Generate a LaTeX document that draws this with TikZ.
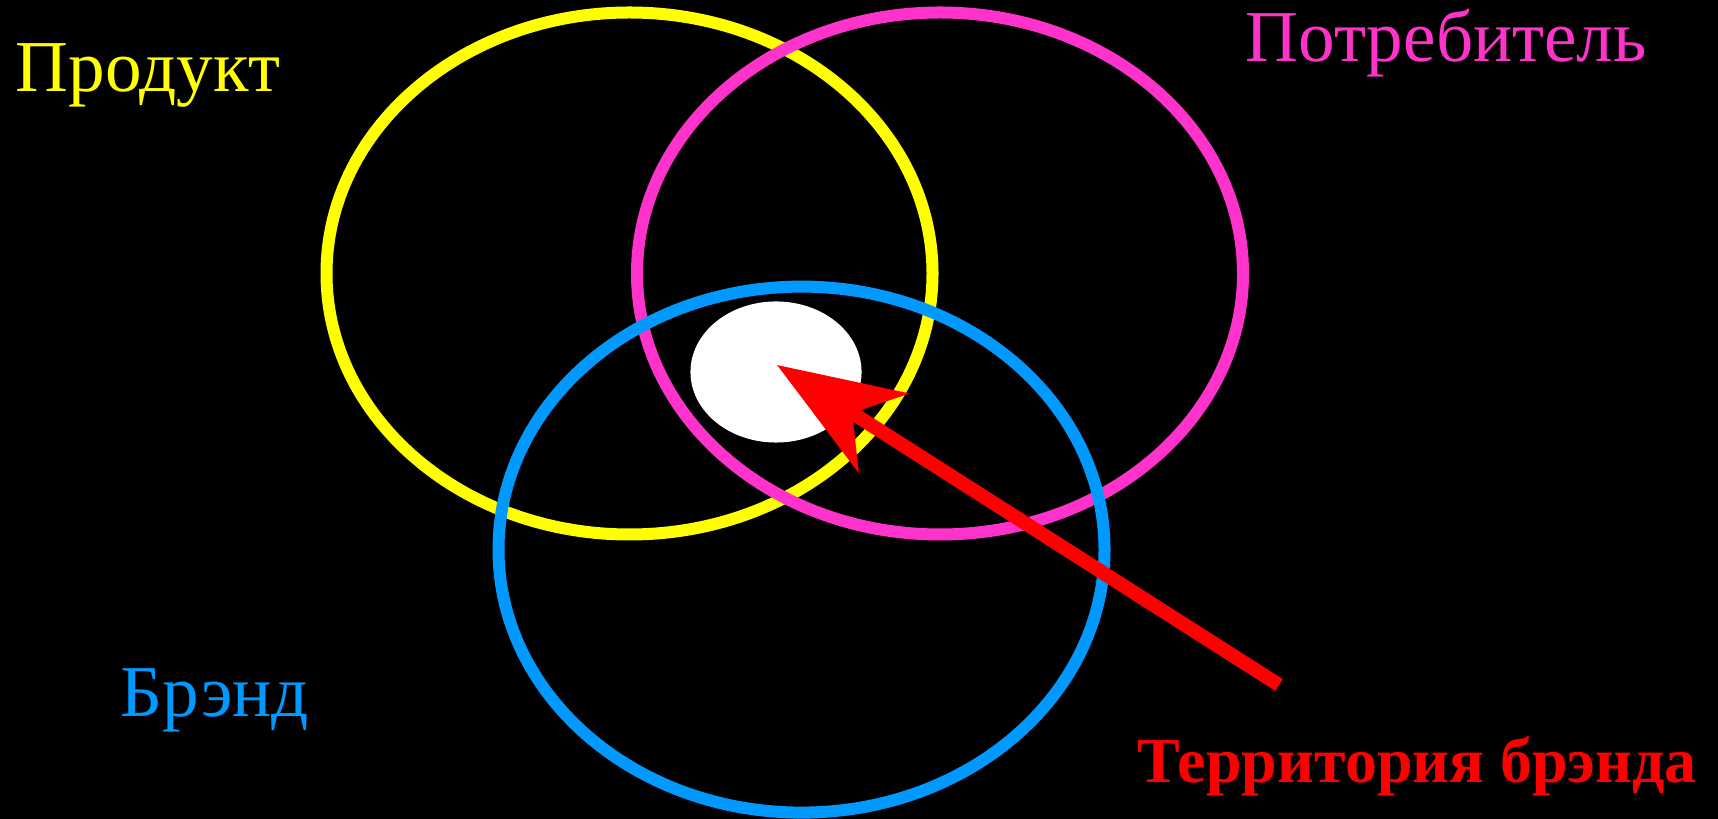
\documentclass[tikz,border=0pt]{standalone}
\usepackage{fontspec}
\setmainfont{Liberation Serif}
\usetikzlibrary{arrows.meta, shapes.geometric}
\definecolor{ringyellow}{RGB}{255, 255, 0}
\definecolor{ringpink}{RGB}{255, 51, 204}
\definecolor{ringblue}{RGB}{0, 153, 255}
\definecolor{arrowred}{RGB}{255, 0, 0}
\tikzset{
  ring/.style={line width=0.12cm},
  label/.style={inner sep=0pt, anchor=base west, font=\fontsize{20.8pt}{25pt}\selectfont},
}

\begin{document}
\begin{tikzpicture}
\begin{scope}[x=0.01cm,y=-0.01cm]
\fill[black] (0,0) rectangle (1718,819);
\useasboundingbox (0,0) rectangle (1718,819);
\node[ellipse, fill=white, minimum width=1.71cm, minimum height=1.41cm, inner sep=0pt] (core) at (776,372) {};
\draw[ring, ringyellow] (629.5,273.5) ellipse [x radius=303, y radius=261];
\draw[ring, ringpink] (940,273.5) ellipse [x radius=303, y radius=261];
\draw[ring, ringblue] (801.5,549.6) ellipse [x radius=303, y radius=263];
\node[label, text=ringyellow] (product) at (15,92) {Продукт};
\node[label, text=ringpink] (consumer) at (1245,62) {Потребитель};
\node[label, text=ringblue] (brand) at (120,717) {Брэнд};
\node[label, text=arrowred, font=\fontsize{18.2pt}{22pt}\selectfont\bfseries] (territory) at (1137,782) {Территория брэнда};
\coordinate (tail) at (1279,685);
\coordinate (tip) at (777,365);
\draw[arrowred, line width=0.14cm, -{Stealth[length=1.26cm, width=0.93cm, inset=0.37cm]}] (tail) -- (tip);
\end{scope}
\end{tikzpicture}
\end{document}
